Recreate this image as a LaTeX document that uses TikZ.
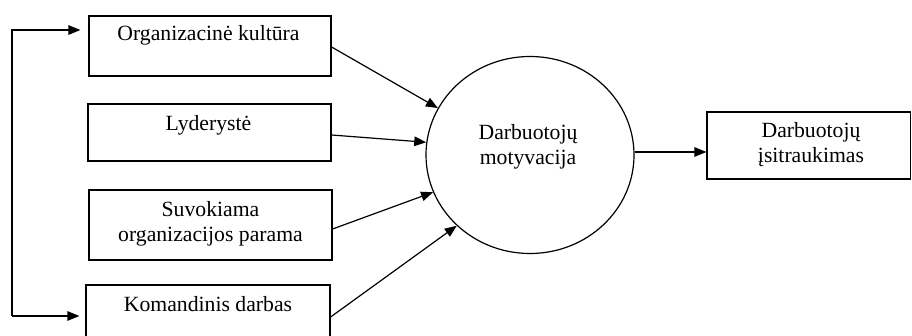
\documentclass[tikz,border=0pt]{standalone}
\usepackage{fontspec}
\setmainfont{Liberation Serif}
\usetikzlibrary{arrows.meta,shapes.geometric}
\begin{document}
\begin{tikzpicture}[x=1pt,y=-1pt,
  line width=1.2pt,
  factorbox/.style={draw, rectangle, inner sep=0pt},
  label/.style={font=\fontsize{21.7}{25}\selectfont, inner sep=0pt, anchor=base, align=center},
  arr/.style={-{Triangle[length=12pt,width=9.5pt]}}]
  \useasboundingbox (0,0) rectangle (912,336);
  \clip (0,0) rectangle (912,336);

  % factor boxes on the left
  \node[factorbox, minimum width=242pt, minimum height=60pt] (b1) at (210,46) {};
  \node[factorbox, minimum width=243pt, minimum height=57pt] (b2) at (209.5,132.5) {};
  \node[factorbox, minimum width=243pt, minimum height=70pt] (b3) at (210.5,225) {};
  \node[factorbox, minimum width=244pt, minimum height=60pt] (b4) at (208,315) {};

  % single-line labels sit on their baseline; two-line labels on the last baseline
  \node[label] (t1) at (208.5,41) {Organizacinė kultūra};
  \node[label] (t2) at (208.5,131) {Lyderystė};
  \node[label] (t3) at (210.5,242) {Suvokiama\\organizacijos parama};
  \node[label] (t4) at (208,312) {Komandinis darbas};

  % central construct
  \node[draw, ellipse, inner sep=0pt, minimum width=208pt, minimum height=197pt] (c) at (530,155) {};
  \node[label] (tc) at (528,165) {Darbuotojų\\motyvacija};

  % outcome box
  \node[factorbox, minimum width=203.5pt, minimum height=67pt] (out) at (808.75,145.5) {};
  \node[label] (to) at (811,163) {Darbuotojų\\įsitraukimas};

  % feedback loop between the first and last factor
  \coordinate (top) at (12,30);
  \coordinate (bot) at (12,316);
  \draw[arr] (bot) -- (top) -- ([xshift=-8pt]b1.west |- top);
  \draw[arr] (bot) -- ([xshift=-6pt]b4.west |- bot);

  % factors into motivation
  \draw[arr] ([yshift=-1pt]b1.east) -- (c.153.7);
  \draw[arr] ([yshift=-2.5pt]b2.east) -- (c.173);
  \draw[arr] ([yshift=-4pt]b3.east) -- (c.201);
  \draw[arr] ([yshift=-2pt]b4.east) -- (c.224);

  % motivation into engagement
  \draw[arr] ([yshift=3pt]c.east) -- ([yshift=3pt]c.east -| out.west);
\end{tikzpicture}
\end{document}
